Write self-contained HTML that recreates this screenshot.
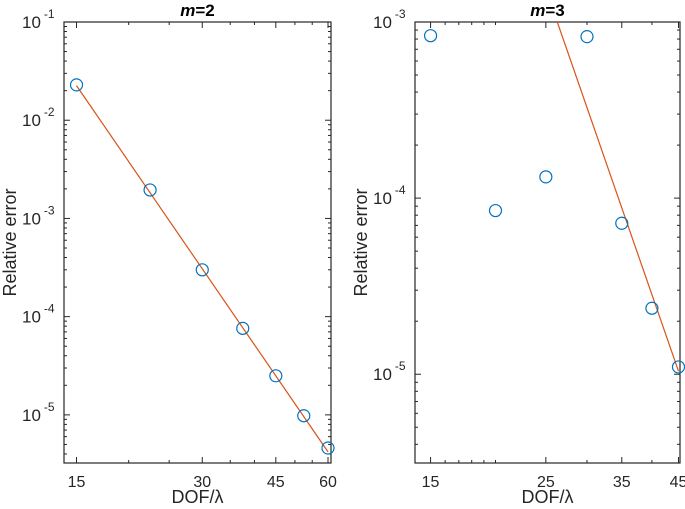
<!DOCTYPE html>
<html><head><meta charset="utf-8"><style>
html,body{margin:0;padding:0;background:#fff;}
svg{display:block;font-family:"Liberation Sans",Arial,sans-serif;}
</style></head><body>
<svg id="chart" width="685" height="509" viewBox="0 0 685 509" xmlns="http://www.w3.org/2000/svg"></svg>
<script>
// Left panel (m=2)
const leftX = [15, 22.5, 30, 37.5, 45, 52.5, 60];
const leftY = [0.0229, 1.95e-3, 3.0e-4, 7.6e-5, 2.5e-5, 9.8e-6, 4.6e-6];
const leftFitX = [15, 60];
const leftFitY = [0.0225, 4.2e-6];
const leftXTicks = [15, 30, 45, 60];
const leftYTicks = [-1, -2, -3, -4, -5];
// Right panel (m=3)
const rightX = [15, 20, 25, 30, 35, 40, 45];
const rightY = [8.36e-4, 8.5e-5, 1.32e-4, 8.26e-4, 7.2e-5, 2.37e-5, 1.10e-5];
const rightFitX = [26.3, 45];
const rightFitY = [1.0e-3, 1.04e-5];
const rightXTicks = [15, 25, 35, 45];
const rightYTicks = [-3, -4, -5];

const NS = "http://www.w3.org/2000/svg";
const svg = document.getElementById("chart");
function mk(tag, attrs, parent) {
  const e = document.createElementNS(NS, tag);
  for (const k in attrs) e.setAttribute(k, attrs[k]);
  (parent || svg).appendChild(e);
  return e;
}

function panel(cfg) {
  const g = mk("g", {});
  
  
  const {x0, x1, y0, y1, xmin, xmax, ymin, ymax} = cfg;
  const sx = v => x0 + (Math.log(v) - Math.log(xmin)) / (Math.log(xmax) - Math.log(xmin)) * (x1 - x0);
  const sy = v => y1 - (Math.log10(v) - ymin) / (ymax - ymin) * (y1 - y0);
  const fr = mk("rect", {x: x0, y: y0, width: x1 - x0, height: y1 - y0, fill: "none", stroke: "#262626", "stroke-width": 1.2}, g);
  
  
  for (let d = Math.floor(ymin); d <= Math.ceil(ymax); d++) {
    for (let m = 1; m <= 9; m++) {
      const lv = d + Math.log10(m);
      if (lv < ymin - 1e-9 || lv > ymax + 1e-9) continue;
      const y = sy(Math.pow(10, lv));
      const len = m === 1 ? 6 : 3;
      mk("line", {x1: x0, x2: x0 + len, y1: y, y2: y, stroke: "#262626", "stroke-width": 1}, g);
      mk("line", {x1: x1, x2: x1 - len, y1: y, y2: y, stroke: "#262626", "stroke-width": 1}, g);
    }
  }
  cfg.yTicks.forEach(p => {
    const y = sy(Math.pow(10, p));
    const t = mk("text", {x: x0 - 42, y: y + 6, "font-size": 17, fill: "#262626"}, g);
    
    
    t.textContent = "10";
    const s = mk("tspan", {dx: 3, dy: -10, "font-size": 12}, t);
    s.textContent = String(p);
  });
  cfg.xMinor.forEach(v => {
    const x = sx(v);
    mk("line", {x1: x, x2: x, y1: y1, y2: y1 - 3, stroke: "#262626", "stroke-width": 1}, g);
    mk("line", {x1: x, x2: x, y1: y0, y2: y0 + 3, stroke: "#262626", "stroke-width": 1}, g);
  });
  cfg.xTicks.forEach(v => {
    const x = sx(v);
    mk("line", {x1: x, x2: x, y1: y1, y2: y1 - 6, stroke: "#262626", "stroke-width": 1}, g);
    mk("line", {x1: x, x2: x, y1: y0, y2: y0 + 6, stroke: "#262626", "stroke-width": 1}, g);
    const t = mk("text", {x: x, y: y1 + 24, "font-size": 16, "text-anchor": "middle", fill: "#262626"}, g);
    
    
    t.textContent = v;
  });
  const xl = mk("text", {x: (x0 + x1) / 2, y: 503, "font-size": 18, "text-anchor": "middle", fill: "#262626"}, g);
  
  
  xl.textContent = "DOF/\u03bb";
  const yl = mk("text", {x: 0, y: 0, "font-size": 18, "text-anchor": "middle", fill: "#262626", transform: `translate(${x0 - 48},${(y0 + y1) / 2}) rotate(-90)`}, g);
  
  
  yl.textContent = "Relative error";
  const ti = mk("text", {x: (x0 + x1) / 2, y: 16, "font-size": 17, "font-weight": "bold", "text-anchor": "middle", fill: "#000"}, g);
  
  
  const ti1 = mk("tspan", {"font-style": "italic"}, ti); ti1.textContent = "m";
  const ti2 = mk("tspan", {}, ti); ti2.textContent = cfg.title;
  const cid = cfg.name + "-clip";
  const cp = mk("clipPath", {id: cid}, g);
  mk("rect", {x: x0, y: y0, width: x1 - x0, height: y1 - y0}, cp);
  const fl = mk("line", {x1: sx(cfg.fitX[0]), y1: sy(cfg.fitY[0]), x2: sx(cfg.fitX[1]), y2: sy(cfg.fitY[1]), stroke: "#d95319", "stroke-width": 1.2, "clip-path": `url(#${cid})`}, g);
  
  
  cfg.px.forEach((v, i) => {
    const c = mk("circle", {cx: sx(v), cy: sy(cfg.py[i]), r: 6, fill: "none", stroke: "#0072bd", "stroke-width": 1.2}, g);
    
    
  });
}

panel({name: "panel-m2", title: "=2", x0: 64, x1: 331, y0: 22, y1: 463, xmin: 14, xmax: 61, ymin: -5.49, ymax: -1,
  xTicks: leftXTicks, yTicks: leftYTicks, xMinor: [20, 25, 35, 40, 50, 55], px: leftX, py: leftY, fitX: leftFitX, fitY: leftFitY});
panel({name: "panel-m3", title: "=3", x0: 415, x1: 680, y0: 22, y1: 463, xmin: 14, xmax: 45.3, ymin: -5.504, ymax: -3,
  xTicks: rightXTicks, yTicks: rightYTicks, xMinor: [16, 17, 18, 19, 20, 30, 40], px: rightX, py: rightY, fitX: rightFitX, fitY: rightFitY});
</script>
</body></html>
